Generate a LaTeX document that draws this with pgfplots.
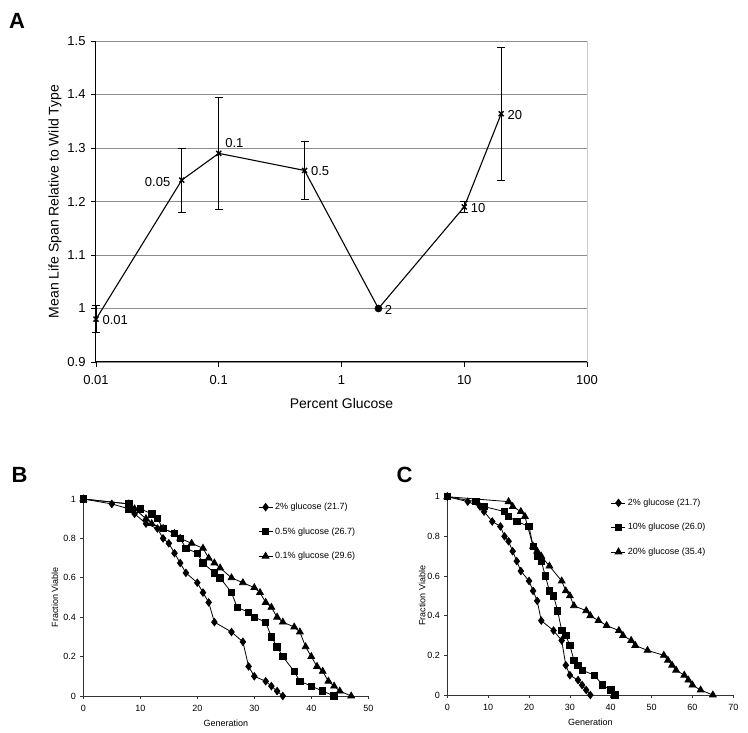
\documentclass[border=0pt]{standalone}
\usepackage{fontspec}
\setmainfont{Liberation Sans}
\usepackage{pgfplots}
\usepackage{pgfplotstable}
\pgfplotsset{compat=1.18}

\pgfplotstableread{
x y e
0.01 0.98 0.025
0.05 1.24 0.06
0.1 1.29 0.105
0.5 1.258 0.054
2 1.0 0
10 1.19 0.01
20 1.364 0.124
}\tblA
\pgfplotstableread{
x y e
0.01 0.98 0.025
0.05 1.24 0.06
0.1 1.29 0.105
0.5 1.258 0.054
10 1.19 0.01
20 1.364 0.124
}\tblAerr
\pgfplotstableread{
x y
0 1
5 0.975
8 0.95
9 0.925
11 0.875
13 0.85
14 0.8
15 0.775
16 0.725
17 0.675
18 0.625
20 0.575
21 0.525
22 0.475
23 0.375
26 0.325
28 0.275
29 0.15
30 0.1
32 0.075
33 0.05
34 0.025
35 0
}\tblTwo
\pgfplotstableread{
x y
0 1
8 0.975
8 0.95
10 0.95
12 0.925
13 0.9
14 0.85
16 0.825
17 0.8
18 0.75
20 0.725
21 0.675
23 0.625
24 0.6
26 0.525
27 0.45
29 0.425
30 0.4
32 0.375
33 0.3
34 0.25
35 0.2
37 0.125
38 0.075
40 0.05
42 0.025
44 0
}\tblHalf
\pgfplotstableread{
x y
0 1
8 0.975
9 0.95
11 0.9
12 0.875
14 0.85
16 0.825
17 0.8
19 0.775
21 0.75
22 0.7
23 0.675
24 0.65
26 0.6
28 0.575
30 0.55
31 0.525
32 0.475
33 0.45
34 0.4
35 0.375
37 0.35
38 0.325
39 0.25
40 0.2
41 0.15
42 0.125
43 0.075
44 0.05
45 0.025
47 0
}\tblTenth
\pgfplotstableread{
x y
0 1
7 0.975
9 0.95
14 0.925
15 0.9
17 0.875
20 0.85
21 0.75
22 0.7
23 0.675
24 0.6
25 0.525
26 0.5
27 0.425
28 0.325
29 0.3
30 0.25
31 0.175
32 0.15
33 0.125
36 0.1
38 0.05
40 0.025
41 0
}\tblTen
\pgfplotstableread{
x y
0 1
15 0.975
16 0.95
18 0.925
19 0.9
21 0.75
22 0.725
23 0.7
25 0.65
28 0.575
29 0.525
30 0.5
31 0.45
34 0.425
35 0.4
37 0.375
39 0.35
42 0.325
43 0.3
45 0.275
46 0.25
49 0.225
53 0.2
54 0.175
55 0.15
56 0.125
58 0.1
59 0.075
60 0.05
62 0.025
65 0
}\tblTwenty

\pgfplotsset{
  survival/.style={
    scale only axis,
    anchor=south west,
    ymin=0, ymax=1,
    ytick={0,0.2,0.4,0.6,0.8,1},
    yticklabels={0,0.2,0.4,0.6,0.8,1},
    axis x line*=bottom, axis y line*=left,
    axis line style={-, black!80, line width=0.7pt},
    tick align=outside, major tick length=3pt,
    tick style={black!80, line width=0.6pt},
    tick label style={font=\fontsize{9}{11}\selectfont},
    xticklabel style={yshift=-3pt},
    yticklabel style={xshift=-1pt},
    label style={font=\fontsize{9}{11}\selectfont},
    xlabel={Generation}, ylabel={Fraction Viable},
    legend style={draw=none, fill=none, font=\fontsize{9}{11}\selectfont,
      row sep=12.5pt, inner sep=0pt},
    legend cell align=left,
    legend image code/.code={%
      \draw[mark repeat=2,mark phase=2,##1] plot coordinates {(0pt,0pt)(7pt,0pt)(14pt,0pt)};},
  },
  dia/.style={black, line width=0.8pt, mark=diamond*, mark size=3.7pt},
  sqr/.style={black, line width=0.8pt, mark=square*, mark size=3.2pt},
  tri/.style={black, line width=0.8pt, mark=triangle*, mark size=3.9pt},
}

\begin{document}
\begin{tikzpicture}[x=1pt,y=1pt]
\useasboundingbox (0pt,0pt) rectangle (748pt,733pt);
\node[font=\fontsize{22}{24}\selectfont\bfseries] at (17pt,712pt) {A};
\node[font=\fontsize{22}{24}\selectfont\bfseries] at (19.5pt,258pt) {B};
\node[font=\fontsize{22}{24}\selectfont\bfseries] at (404.5pt,258pt) {C};

\begin{axis}[
  at={(96pt,371pt)}, anchor=south west, scale only axis,
  width=491pt, height=321pt,
  xmode=log, xmin=0.01, xmax=100, ymin=0.9, ymax=1.5,
  xtick={0.01,0.1,1,10,100}, xticklabels={0.01,0.1,1,10,100},
  xminorticks=false,
  ytick={0.9,1.0,1.1,1.2,1.3,1.4,1.5},
  yticklabels={0.9,1,1.1,1.2,1.3,1.4,1.5},
  axis x line*=bottom, axis y line*=left,
  axis line style={-, black, line width=1pt},
  ymajorgrids, grid style={black!45, line width=0.7pt},
  tick align=outside, major tick length=5pt,
  tick style={black, line width=0.8pt},
  tick label style={font=\fontsize{13}{15}\selectfont},
  xticklabel style={yshift=-5pt},
  yticklabel style={xshift=-2pt},
  xlabel={Percent Glucose}, ylabel={Mean Life Span Relative to Wild Type},
  label style={font=\fontsize{14}{16}\selectfont},
  xlabel style={at={(axis description cs:0.5,-0.128)}, anchor=center},
  ylabel style={at={(axis description cs:-0.0835,0.5)}, anchor=center},
  clip=false,
]
\draw[black!20, line width=0.6pt] (rel axis cs:1,0) -- (rel axis cs:1,1);
\addplot[black, line width=1.1pt, mark=x, mark size=3.5pt,
  mark options={line width=1.4pt}, mark indices={1,2,3,4,6,7}]
  table[x=x, y=y] {\tblA};
\addplot[draw=none, mark=none, forget plot,
  error bars/.cd, y dir=both, y explicit,
  error bar style={black, line width=0.7pt},
  error mark options={rotate=90, mark size=4pt, line width=0.7pt, black}]
  table[x=x, y=y, y error=e] {\tblAerr};
\addplot[only marks, mark=*, mark size=3.6pt, black] coordinates {(2,1)};
\addplot[draw=none, mark=none, nodes near coords, point meta=explicit symbolic,
  nodes near coords style={anchor=west, xshift=3pt, yshift=-1pt, black,
    font=\fontsize{13}{15}\selectfont}]
  coordinates {(0.01,0.98)[0.01] (0.5,1.258)[0.5] (2,1.0)[2] (10,1.19)[10] (20,1.364)[20]};
\addplot[draw=none, mark=none, nodes near coords, point meta=explicit symbolic,
  nodes near coords style={anchor=east, xshift=-8pt, yshift=-2pt, black,
    font=\fontsize{13}{15}\selectfont}]
  coordinates {(0.05,1.24)[0.05]};
\addplot[draw=none, mark=none, nodes near coords, point meta=explicit symbolic,
  nodes near coords style={anchor=west, xshift=3pt, yshift=10pt, black,
    font=\fontsize{13}{15}\selectfont}]
  coordinates {(0.1,1.29)[0.1]};
\end{axis}

\begin{axis}[survival,
  at={(83.3pt,37pt)}, width=285pt, height=197pt,
  xmin=0, xmax=50, xtick={0,10,20,30,40,50}, xticklabels={0,10,20,30,40,50},
  xlabel style={at={(axis description cs:0.5,-0.137)}, anchor=center},
  ylabel style={at={(axis description cs:-0.1,0.5)}, anchor=center},
  legend style={at={(axis description cs:0.613,0.99)}, anchor=north west},
]
\addplot[dia] table[x=x,y=y] {\tblTwo};
\addlegendentry{2\% glucose (21.7)}
\addplot[sqr] table[x=x,y=y] {\tblHalf};
\addlegendentry{0.5\% glucose (26.7)}
\addplot[tri] table[x=x,y=y] {\tblTenth};
\addlegendentry{0.1\% glucose (29.6)}
\end{axis}

\begin{axis}[survival,
  at={(447.3pt,38pt)}, width=286pt, height=198.3pt,
  xmin=0, xmax=70, xtick={0,10,20,30,40,50,60,70}, xticklabels={0,10,20,30,40,50,60,70},
  xlabel style={at={(axis description cs:0.5,-0.136)}, anchor=center},
  ylabel style={at={(axis description cs:-0.088,0.5)}, anchor=center},
  legend style={at={(axis description cs:0.572,1.0)}, anchor=north west},
]
\addplot[dia] table[x=x,y=y] {\tblTwo};
\addlegendentry{2\% glucose (21.7)}
\addplot[sqr] table[x=x,y=y] {\tblTen};
\addlegendentry{10\% glucose (26.0)}
\addplot[tri] table[x=x,y=y] {\tblTwenty};
\addlegendentry{20\% glucose (35.4)}
\end{axis}
\end{tikzpicture}
\end{document}
